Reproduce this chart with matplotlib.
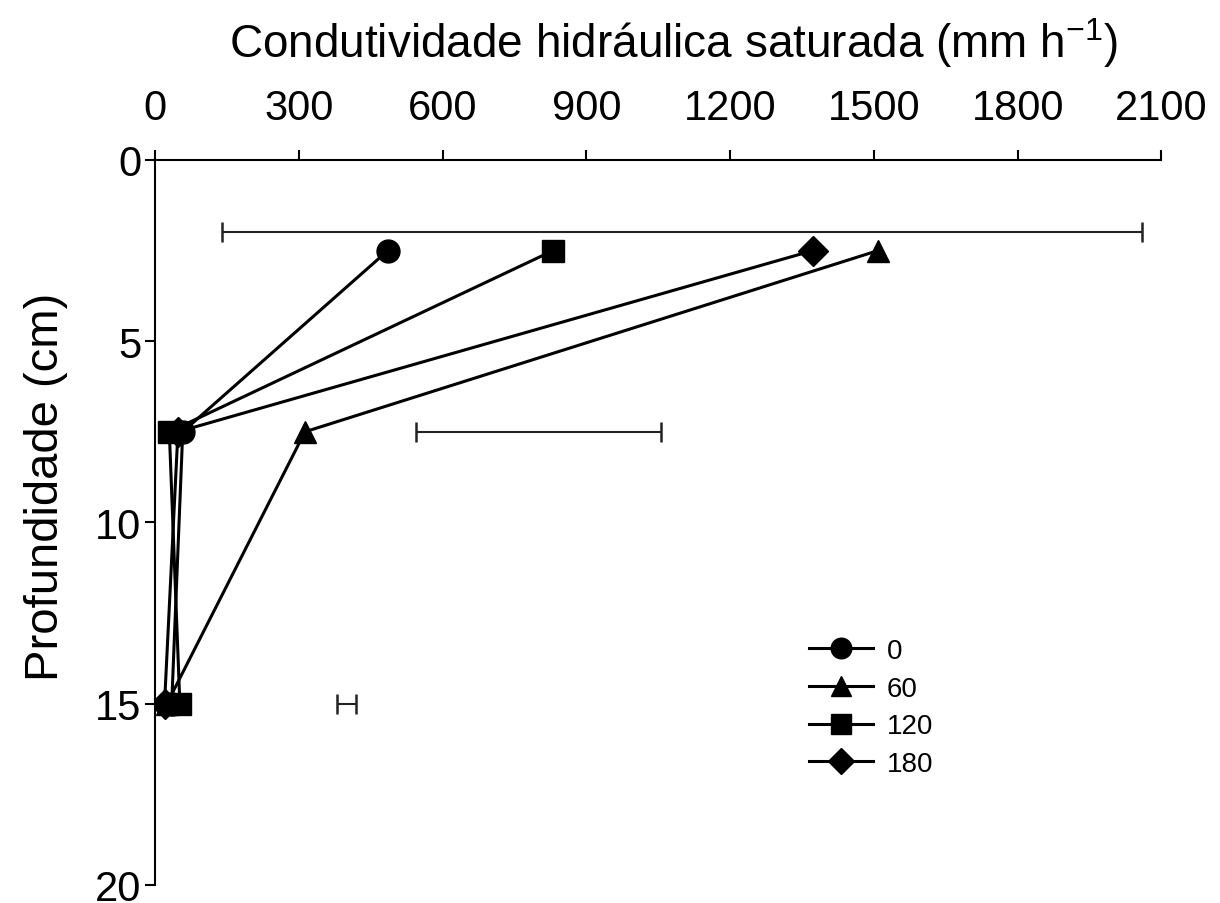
import matplotlib.pyplot as plt

plt.rcParams['font.family'] = ['Liberation Sans', 'DejaVu Sans']
plt.rcParams['mathtext.fontset'] = 'custom'
plt.rcParams['mathtext.rm'] = 'Liberation Sans'
plt.rcParams['mathtext.default'] = 'regular'

depth = [2.5, 7.5, 15]
k0 = [486, 58, 35]
k60 = [1509, 313, 25]
k120 = [831, 30, 52]
k180 = [1373, 48, 20]

# error bars (centre, half width, depth)
errCentre = [1100, 800, 399]
errHalf = [960, 255, 20]
errDepth = [2.0, 7.5, 15]

xTicks = [0, 300, 600, 900, 1200, 1500, 1800, 2100]
yTicks = [0, 5, 10, 15, 20]


def main():
    fig = plt.figure(figsize=(12.2, 9.04), dpi=100)
    ax = fig.add_axes([0.127, 0.02, 0.825, 0.802])

    ax.errorbar(errCentre, errDepth, xerr=errHalf, fmt='none', ecolor='#222222',
                elinewidth=1.5, capsize=7, capthick=1.8)

    ax.plot(k0, depth, '-o', label='0', color='black', linewidth=2.2, markersize=16.5)
    ax.plot(k60, depth, '-^', label='60', color='black', linewidth=2.2, markersize=16)
    ax.plot(k120, depth, '-s', label='120', color='black', linewidth=2.2, markersize=16)
    ax.plot(k180, depth, '-D', label='180', color='black', linewidth=2.2, markersize=15)

    ax.set_xlim(0, 2100)
    ax.set_ylim(20, 0)
    ax.xaxis.tick_top()
    ax.xaxis.set_label_position('top')
    ax.set_xticks(xTicks)
    ax.set_yticks(yTicks)
    for s in ['right', 'bottom']:
        ax.spines[s].set_visible(False)
    for s in ['left', 'top']:
        ax.spines[s].set_linewidth(1.5)
    ax.tick_params(axis='both', labelsize=30, width=1.5, length=7, direction='out')
    ax.tick_params(axis='x', pad=16)
    ax.tick_params(axis='y', pad=3)

    ax.set_xlabel('Condutividade hidráulica saturada (mm h$^{-1}$)', fontsize=33, labelpad=22)
    ax.xaxis.label.set_x(0.515)
    ax.set_ylabel('Profundidade (cm)', fontsize=34)
    ax.yaxis.set_label_coords(-0.086, 0.551)

    ax.legend(loc='upper left', bbox_to_anchor=(0.625, 0.375), frameon=False, fontsize=20,
              handlelength=2.3, labelspacing=0.42, handletextpad=0.5, markerscale=0.9)

    plt.savefig('out.png')


if __name__ == '__main__':
    main()
